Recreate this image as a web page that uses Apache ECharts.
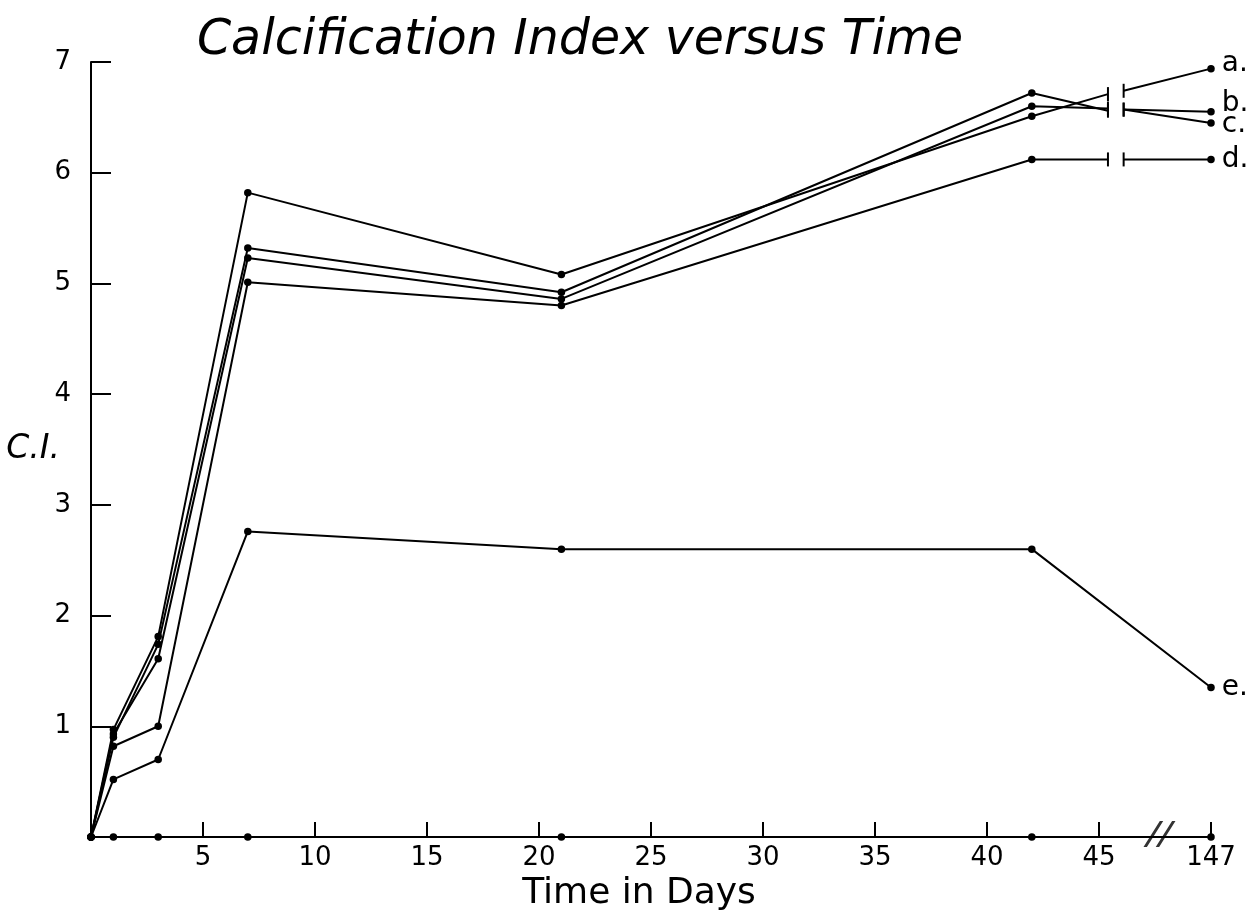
<!DOCTYPE html>
<html>
<head>
<meta charset="utf-8">
<script src="https://cdn.jsdelivr.net/npm/echarts@6/dist/echarts.min.js"></script>
<style>
  html, body { margin: 0; padding: 0; background: #fff; }
  #chart { width: 1248px; height: 919px; }
</style>
</head>
<body>
<div id="chart"></div>
<script>
// ---- data ----
const days = [0, 1, 3, 7, 21, 42, 147];
const seriesNames = ['a.', 'b.', 'c.', 'd.', 'e.'];
const valuesA = [0, 0.97, 1.81, 5.82, 5.08, 6.51, 6.94];
const valuesB = [0, 0.93, 1.61, 5.23, 4.86, 6.60, 6.55];
const valuesC = [0, 0.90, 1.74, 5.32, 4.92, 6.72, 6.45];
const valuesD = [0, 0.82, 1.00, 5.01, 4.80, 6.12, 6.12];
const valuesE = [0, 0.52, 0.70, 2.76, 2.60, 2.60, 1.35];
const valuesControl = [0, 0, 0, 0, 0, 0, 0];
// values where each line meets the axis break (left side / right side)
const breakLeftValues = [6.71, 6.58, 6.56, 6.12];
const breakRightValues = [6.74, 6.57, 6.57, 6.12];
const xTickValues = [5, 10, 15, 20, 25, 30, 35, 40, 45, 147];
const yTickValues = [1, 2, 3, 4, 5, 6, 7];

// ---- broken-axis mapping: day 147 is drawn after a break ----
const BREAK_LEFT = 45.4, BREAK_RIGHT = 46.1, BREAK_MARK = 47.7, END_POS = 50;
function axisPos(d) { return d > 46 ? END_POS : d; }
function axisLabelText(v) { return v === END_POS ? '147' : String(v); }

const FONT = 'DejaVu Sans';
const dot = { symbol: 'circle', symbolSize: 7.5 };
const cap = { symbol: 'rect', symbolSize: [2, 14] };

function buildBroken(vals, i) {
  const pts = [];
  for (let k = 0; k < days.length - 1; k++) pts.push({ value: [axisPos(days[k]), vals[k]] });
  pts.push({ value: [BREAK_LEFT, breakLeftValues[i]], ...cap });
  pts.push({ value: [BREAK_LEFT + 0.3, '-'], symbol: 'none' });
  pts.push({ value: [BREAK_RIGHT, breakRightValues[i]], ...cap });
  pts.push({ value: [axisPos(days[days.length - 1]), vals[vals.length - 1]],
    label: { show: true, formatter: seriesNames[i] } });
  return pts;
}
function buildPlain(vals, name) {
  return days.map((d, k) => {
    const p = { value: [axisPos(d), vals[k]] };
    if (k === days.length - 1 && name) p.label = { show: true, formatter: name };
    return p;
  });
}

const lineBase = {
  type: 'line',
  smooth: false,
  connectNulls: false,
  ...dot,
  showAllSymbol: true,
  itemStyle: { color: '#000' },
  lineStyle: { color: '#000', width: 2 },
  label: { show: false, position: 'right', distance: 7, color: '#000', fontFamily: FONT, fontSize: 28 },
  emphasis: { disabled: true },
  z: 3
};

const series = [
  { ...lineBase, name: 'a', data: buildBroken(valuesA, 0), label: { ...lineBase.label, offset: [0, -5] } },
  { ...lineBase, name: 'b', data: buildBroken(valuesB, 1), label: { ...lineBase.label, offset: [0, -8] } },
  { ...lineBase, name: 'c', data: buildBroken(valuesC, 2), label: { ...lineBase.label, offset: [0, 2] } },
  { ...lineBase, name: 'd', data: buildBroken(valuesD, 3) },
  { ...lineBase, name: 'e', data: buildPlain(valuesE, 'e.') },
  { ...lineBase, name: 'control', data: buildPlain(valuesControl, null) },
  {
    type: 'scatter',
    name: 'break',
    data: [[BREAK_MARK, 0]],
    symbol: 'path://M0,24 L12,0 L14.5,0 L2.5,24 Z M9,24 L21,0 L23.5,0 L11.5,24 Z',
    symbolSize: [32, 26],
    symbolOffset: [0, -3],
    itemStyle: { color: '#000' },
    emphasis: { disabled: true },
    z: 5
  }
];

const chart = echarts.init(document.getElementById('chart'), null, { renderer: 'canvas' });
chart.setOption({
  animation: false,
  backgroundColor: '#fff',
  title: {
    text: 'Calcification Index versus Time',
    left: 575, top: 12, textAlign: 'center',
    textStyle: { fontFamily: FONT, fontSize: 49, fontStyle: 'italic', fontWeight: 'normal', color: '#000' }
  },
  grid: { left: 91, right: 37, top: 62, bottom: 82, containLabel: false, outerBoundsMode: 'none' },
  xAxis: {
    type: 'value', min: 0, max: END_POS, interval: 5,
    name: 'Time in Days', nameLocation: 'middle', nameGap: 8,
    nameTextStyle: { fontFamily: FONT, fontSize: 36, color: '#000', padding: [0, 24, 0, 0] },
    axisLine: { show: true, onZero: false, lineStyle: { color: '#000', width: 2 } },
    axisTick: { show: true, inside: true, length: 15, lineStyle: { color: '#000', width: 2 },
      customValues: xTickValues.map(axisPos) },
    axisLabel: { show: true, margin: 8, color: '#000', fontFamily: FONT, fontSize: 26,
      customValues: xTickValues.map(axisPos), formatter: axisLabelText },
    splitLine: { show: false }
  },
  yAxis: {
    type: 'value', min: 0, max: 7, interval: 1,
    name: 'C.I.', nameLocation: 'middle', nameRotate: 0, nameGap: 31, nameMoveOverlap: false,
    nameTextStyle: { fontFamily: FONT, fontSize: 33, fontStyle: 'italic', color: '#000' },
    axisLine: { show: true, lineStyle: { color: '#000', width: 2 } },
    axisTick: { show: true, inside: true, length: 20, lineStyle: { color: '#000', width: 2 },
      customValues: yTickValues },
    axisLabel: { show: true, margin: 20, color: '#000', fontFamily: FONT, fontSize: 26,
      customValues: yTickValues },
    splitLine: { show: false }
  },
  series: series
});
</script>
</body>
</html>
